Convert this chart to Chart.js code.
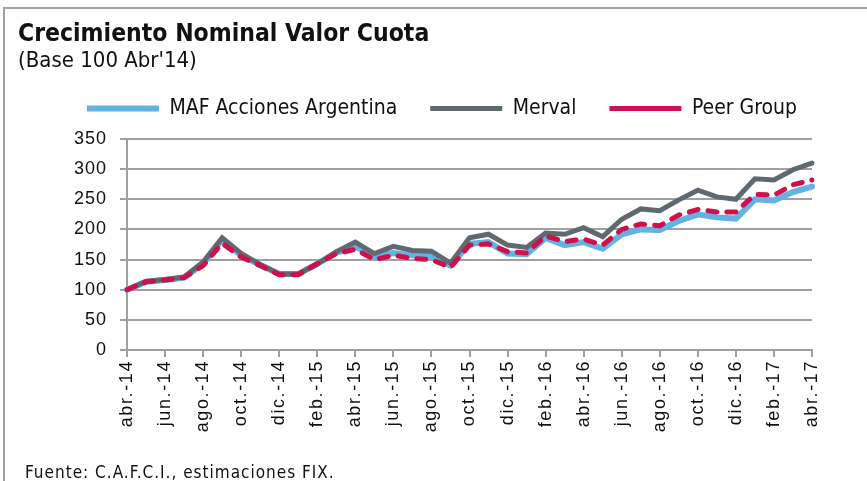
<!DOCTYPE html>
<html>
<head>
<meta charset="utf-8">
<script src="https://cdn.jsdelivr.net/npm/chart.js@4"></script>
<style>
  body { margin: 0; background: #fff; }
  #wrap { position: relative; width: 867px; height: 481px; overflow: hidden; }
  #frame { position: absolute; left: 3px; top: 7px; width: 880px; height: 490px;
           border-top: 2px solid #a0a0a0; border-left: 2px solid #a0a0a0; }
  .txt { position: absolute; line-height: 1; color: #111; white-space: nowrap; }
  #titulo { left: 18px; top: 18px; font: bold 24.5px "DejaVu Sans Condensed", sans-serif; }
  #subtitulo { left: 18px; top: 47px; font: 22px "DejaVu Sans Condensed", sans-serif; }
  #fuente { left: 25px; top: 462px; font: 17px "DejaVu Sans Condensed", sans-serif; letter-spacing: 1px; }
  canvas { position: absolute; left: 0; top: 0; }
</style>
</head>
<body>
<div id="wrap">
  <div id="frame"></div>
  <canvas id="grafico" width="867" height="481"></canvas>
  <div class="txt" id="titulo">Crecimiento Nominal Valor Cuota</div>
  <div class="txt" id="subtitulo">(Base 100 Abr'14)</div>
  <div class="txt" id="fuente">Fuente: C.A.F.C.I., estimaciones FIX.</div>
</div>
<script>
// meses (base 100 abr-14)
const meses = ["abr.-14","may.-14","jun.-14","jul.-14","ago.-14","sep.-14","oct.-14","nov.-14","dic.-14",
  "ene.-15","feb.-15","mar.-15","abr.-15","may.-15","jun.-15","jul.-15","ago.-15","sep.-15","oct.-15","nov.-15","dic.-15",
  "ene.-16","feb.-16","mar.-16","abr.-16","may.-16","jun.-16","jul.-16","ago.-16","sep.-16","oct.-16","nov.-16","dic.-16",
  "ene.-17","feb.-17","mar.-17","abr.-17"];

const maf = [100,113,116,120,143,183,157,141,126,126,143,161,172,155,161,157,156,140,176,179,160,
  159,186,174,179,168,192,200,199,214,225,220,218,250,248,262,271];
const merval = [100,114,117,121,146,186,160,142,126,126,143,163,179,160,172,165,164,144,186,192,174,
  170,194,192,203,188,217,234,231,249,265,254,250,284,282,299,310];
const peer = [100,113,116,120,140,177,154,140,125,125,143,160,167,150,157,152,150,137,174,176,163,
  161,189,180,184,174,200,209,206,224,233,229,229,258,257,274,282];

const yTicks = [0, 50, 100, 150, 200, 250, 300, 350];

const gris = "#a0a0a0";

// ajustes: alto de la leyenda, corrimiento y espaciado de letras en ejes
const ajustes = {
    id: "ajustes",
    beforeInit(chart) {
        const fit = chart.legend.fit;
        chart.legend.fit = function () {
            fit.call(this);
            this.height = 74;
        };
    },
    afterLayout(chart) {
        chart.legend.left += 36;
        chart.legend.right += 36;
        ["x", "y"].forEach(id => {
            const s = chart.scales[id];
            if (s._espaciado) return;
            const orig = s.drawLabels;
            s.drawLabels = function (area) {
                const c = this.ctx;
                c.save();
                c.letterSpacing = id === "x" ? "1.6px" : "1px";
                orig.call(this, area);
                c.restore();
            };
            s._espaciado = true;
        });
    }
};

new Chart(document.getElementById("grafico"), {
    type: "line",
    data: {
        labels: meses,
        datasets: [
            { label: "MAF Acciones Argentina", data: maf, borderColor: "#62b2e4", borderWidth: 6,
              borderCapStyle: "round", pointRadius: 0, tension: 0, order: 3 },
            { label: "Merval", data: merval, borderColor: "#5e6a70", borderWidth: 5,
              borderCapStyle: "round", pointRadius: 0, tension: 0, order: 2 },
            { label: "Peer Group", data: peer, borderColor: "#d0104c", borderWidth: 5,
              borderDash: [9, 10], borderCapStyle: "round", pointRadius: 0, tension: 0, order: 1 }
        ]
    },
    plugins: [ajustes],
    options: {
        responsive: false,
        animation: false,
        layout: { padding: { top: 65, right: 55, bottom: 0, left: 0 } },
        plugins: {
            legend: {
                position: "top",
                labels: {
                    usePointStyle: true,
                    pointStyle: "line",
                    pointStyleWidth: 72,
                    color: "#111",
                    padding: 33,
                    font: { family: "DejaVu Sans Condensed", size: 21 },
                    sort: (a, b) => a.datasetIndex - b.datasetIndex
                }
            },
            tooltip: { enabled: false }
        },
        scales: {
            x: {
                offset: false,
                afterFit: (s) => { s.height = 131; },
                border: { color: gris, width: 2 },
                grid: {
                    drawOnChartArea: false,
                    tickLength: 7,
                    lineWidth: 2,
                    color: (ctx) => ctx.index % 2 === 0 ? gris : "rgba(0,0,0,0)"
                },
                ticks: {
                    autoSkip: false,
                    minRotation: 90,
                    maxRotation: 90,
                    color: "#111",
                    padding: 3,
                    font: { family: "Liberation Sans", size: 18 },
                    callback: function (v, i) { return i % 2 === 0 ? meses[i] : ""; }
                }
            },
            y: {
                min: 0,
                max: 350,
                afterFit: (s) => { s.width = 127; },
                afterBuildTicks: (s) => { s.ticks = yTicks.map(v => ({ value: v })); },
                border: { color: gris, width: 2 },
                grid: { color: gris, lineWidth: 2, tickLength: 7 },
                ticks: {
                    color: "#111",
                    padding: 13,
                    font: { family: "Liberation Sans", size: 18 }
                }
            }
        }
    }
});
</script>
</body>
</html>
